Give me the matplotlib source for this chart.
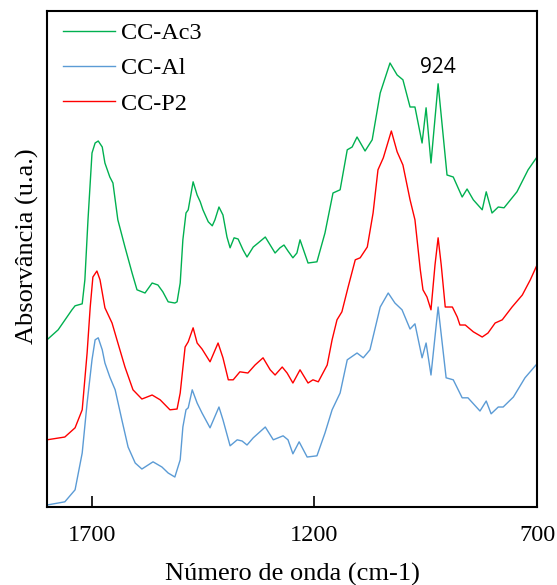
import matplotlib
matplotlib.use("Agg")
import matplotlib.pyplot as plt

# wavenumbers (cm-1) and absorbance (a.u.)
wn_ac3 = [1800, 1775, 1744, 1737, 1721, 1715, 1708, 1699, 1692, 1685,
          1676, 1670, 1659, 1652, 1641, 1625, 1609, 1598, 1580, 1564,
          1551, 1540, 1528, 1513, 1508, 1501, 1495, 1488, 1483, 1472,
          1463, 1456, 1450, 1438, 1429, 1423, 1414, 1405, 1396, 1389,
          1380, 1371, 1360, 1351, 1337, 1326, 1310, 1299, 1288, 1277,
          1268, 1259, 1248, 1239, 1232, 1214, 1194, 1176, 1158, 1142,
          1126, 1115, 1104, 1086, 1070, 1052, 1030, 1014, 1001, 985,
          974, 958, 949, 938, 922, 902, 888, 868, 857, 843,
          823, 814, 801, 787, 774, 745, 720, 700]
abs_ac3 = [0.418, 0.443, 0.493, 0.503, 0.508, 0.568, 0.718, 0.885, 0.910, 0.915,
           0.900, 0.860, 0.825, 0.810, 0.718, 0.650, 0.585, 0.543, 0.535, 0.560,
           0.555, 0.538, 0.513, 0.510, 0.513, 0.560, 0.668, 0.735, 0.743, 0.813,
           0.780, 0.763, 0.743, 0.713, 0.703, 0.718, 0.750, 0.730, 0.675, 0.648,
           0.673, 0.670, 0.643, 0.625, 0.650, 0.660, 0.675, 0.655, 0.635, 0.648,
           0.655, 0.640, 0.623, 0.635, 0.668, 0.610, 0.613, 0.685, 0.785, 0.793,
           0.893, 0.900, 0.925, 0.890, 0.918, 1.035, 1.110, 1.080, 1.068, 1.000,
           1.000, 0.910, 0.998, 0.860, 1.058, 0.830, 0.825, 0.775, 0.795, 0.768,
           0.743, 0.788, 0.735, 0.750, 0.748, 0.788, 0.843, 0.875]

wn_al = [1800, 1760, 1737, 1721, 1710, 1699, 1692, 1685, 1676, 1670,
         1659, 1647, 1632, 1618, 1602, 1587, 1562, 1542, 1528, 1513,
         1501, 1495, 1488, 1483, 1474, 1463, 1452, 1434, 1414, 1405,
         1389, 1373, 1362, 1351, 1337, 1310, 1292, 1270, 1259, 1248,
         1234, 1216, 1194, 1176, 1160, 1142, 1126, 1104, 1090, 1075,
         1052, 1034, 1019, 1003, 985, 974, 958, 949, 938, 922,
         904, 888, 868, 855, 828, 814, 803, 787, 776, 753,
         727, 700]
abs_al = [0.005, 0.013, 0.043, 0.135, 0.260, 0.368, 0.418, 0.423, 0.393, 0.360,
          0.325, 0.293, 0.218, 0.150, 0.110, 0.095, 0.113, 0.100, 0.085, 0.075,
          0.118, 0.200, 0.243, 0.248, 0.293, 0.260, 0.235, 0.198, 0.250, 0.218,
          0.153, 0.168, 0.165, 0.155, 0.173, 0.200, 0.168, 0.178, 0.168, 0.133,
          0.163, 0.125, 0.128, 0.185, 0.243, 0.285, 0.368, 0.385, 0.373, 0.393,
          0.500, 0.535, 0.510, 0.493, 0.445, 0.458, 0.373, 0.410, 0.330, 0.500,
          0.323, 0.318, 0.273, 0.273, 0.240, 0.265, 0.233, 0.250, 0.250, 0.275,
          0.323, 0.358]

wn_p2 = [1800, 1760, 1737, 1721, 1710, 1703, 1697, 1688, 1681, 1670,
         1654, 1643, 1625, 1607, 1587, 1564, 1546, 1524, 1508, 1501,
         1490, 1483, 1472, 1463, 1452, 1434, 1416, 1405, 1393, 1382,
         1367, 1349, 1333, 1315, 1299, 1288, 1272, 1261, 1248, 1232,
         1214, 1203, 1191, 1171, 1160, 1149, 1138, 1124, 1108, 1097,
         1081, 1068, 1057, 1045, 1027, 1014, 1001, 985, 974, 962,
         956, 947, 938, 929, 922, 915, 906, 890, 879, 873,
         861, 843, 823, 810, 794, 778, 756, 733, 715, 700]
abs_p2 = [0.168, 0.175, 0.198, 0.243, 0.385, 0.500, 0.575, 0.590, 0.568, 0.498,
          0.460, 0.418, 0.350, 0.293, 0.270, 0.280, 0.268, 0.243, 0.245, 0.285,
          0.400, 0.413, 0.448, 0.410, 0.395, 0.363, 0.410, 0.373, 0.318, 0.318,
          0.338, 0.335, 0.355, 0.373, 0.343, 0.330, 0.350, 0.335, 0.310, 0.343,
          0.310, 0.318, 0.313, 0.355, 0.418, 0.468, 0.488, 0.550, 0.618, 0.623,
          0.650, 0.735, 0.843, 0.873, 0.940, 0.888, 0.855, 0.768, 0.718, 0.593,
          0.543, 0.525, 0.493, 0.605, 0.673, 0.605, 0.500, 0.500, 0.475, 0.455,
          0.455, 0.438, 0.425, 0.435, 0.460, 0.468, 0.500, 0.530, 0.568, 0.605]

x_ticks = [1700, 1200, 700]

plt.rcParams['font.family'] = ['Liberation Serif', 'DejaVu Serif']

fig = plt.figure(figsize=(5.57, 5.85), dpi=100)
ax = fig.add_axes([0.0844, 0.1333, 0.8797, 0.8479])

ax.plot(wn_ac3, abs_ac3, color='#00b050', lw=1.0, label='CC-Ac3')
ax.plot(wn_al, abs_al, color='#5b9bd5', lw=1.0, label='CC-Al')
ax.plot(wn_p2, abs_p2, color='#ff0000', lw=1.0, label='CC-P2')

ax.annotate('924', xy=(922, 1.10), ha='center', va='center',
            fontsize=15, family=['Open Sans', 'DejaVu Sans'])

ax.set_xlim(1800, 700)
ax.set_ylim(0, 1.24)
ax.set_xticks(x_ticks)
ax.set_xticklabels([str(t) for t in x_ticks], fontsize=17.5)
ax.set_yticks([])
ax.tick_params(axis='x', direction='in', length=8, width=1.2, pad=13)
for s in ax.spines.values():
    s.set_linewidth(1.5)

ax.set_xlabel('Número de onda (cm-1)', fontsize=19, labelpad=12)
ax.set_ylabel('Absorvância (u.a.)', fontsize=19, labelpad=6, y=0.526)

ax.legend(loc='upper left', bbox_to_anchor=(0.0227, 0.987), frameon=False,
          fontsize=17.5, handlelength=2.15, handletextpad=0.25,
          labelspacing=0.54, borderpad=0.2, borderaxespad=0)

fig.savefig('out.png', dpi=100)
